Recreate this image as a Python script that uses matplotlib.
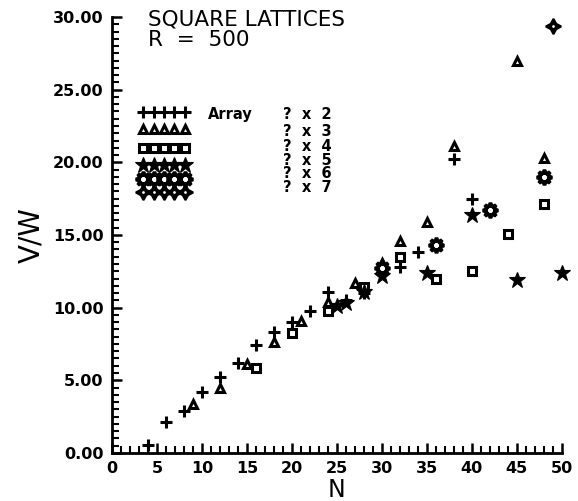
import matplotlib
matplotlib.use("Agg")
import matplotlib.pyplot as plt
from matplotlib.ticker import MultipleLocator, FormatStrFormatter

plt.rcParams['font.family'] = ['DejaVu Sans']

# N (array size) vs V/W for arrays of ? x k
n_x2 = [4, 6, 8, 10, 12, 14, 16, 18, 20, 22, 24, 26, 28, 32, 34, 38, 40]
v_x2 = [0.55, 2.1, 2.9, 4.2, 5.2, 6.2, 7.4, 8.3, 9.0, 9.8, 11.1, 10.5, 11.0, 12.8, 13.8, 20.2, 17.5]

n_x3 = [9, 12, 15, 18, 21, 24, 27, 30, 32, 35, 38, 45, 48]
v_x3 = [3.4, 4.5, 6.1, 7.6, 9.1, 10.4, 11.7, 13.1, 14.6, 15.9, 21.1, 27.0, 20.3]

n_x4 = [16, 20, 24, 28, 32, 36, 40, 44, 48]
v_x4 = [5.85, 8.25, 9.8, 11.4, 13.5, 12.0, 12.5, 15.1, 17.1]

n_x5 = [25, 26, 28, 30, 35, 40, 45, 50]
v_x5 = [10.1, 10.3, 11.1, 12.2, 12.4, 16.4, 11.9, 12.4]

n_x6 = [30, 36, 42, 48]
v_x6 = [12.7, 14.3, 16.7, 19.0]

n_x7 = [49]
v_x7 = [29.4]

legend_labels = ["?  x  2", "?  x  3", "?  x  4", "?  x  5", "?  x  6", "?  x  7"]

fig = plt.figure(figsize=(5.78, 5.01), dpi=100)
ax = fig.add_axes([0.194, 0.096, 0.778, 0.870])

# marker styles for each series
styles = [
    dict(marker='+', ms=9, mew=2.2, color='black', mfc='none'),
    dict(marker='^', ms=6, mew=2.2, color='black', mfc='white'),
    dict(marker='s', ms=5.5, mew=2.2, color='black', mfc='white'),
    dict(marker='*', ms=12, mew=0.8, color='black', mfc='black'),
    dict(marker=(8, 1, 0), ms=11, mew=2.6, color='black', mfc='white'),
    dict(marker=(4, 1, 0), ms=11, mew=1.5, color='black', mfc='black'),
]
series = [(n_x2, v_x2), (n_x3, v_x3), (n_x4, v_x4), (n_x5, v_x5), (n_x6, v_x6), (n_x7, v_x7)]

for (n, v), st in zip(series, styles):
    ax.plot(n, v, ls='none', clip_on=False, **st)
# hole in the middle of the 4-point star
ax.plot(n_x7, v_x7, ls='none', marker='o', ms=3.5, mfc='white', mec='black', mew=1.5)

ax.set_xlim(0, 50)
ax.set_ylim(0, 30)
ax.spines['top'].set_visible(False)
ax.spines['right'].set_visible(False)
ax.spines['left'].set_linewidth(2)
ax.spines['bottom'].set_linewidth(2)

ax.xaxis.set_major_locator(MultipleLocator(5))
ax.xaxis.set_minor_locator(MultipleLocator(1))
ax.yaxis.set_major_locator(MultipleLocator(5))
ax.yaxis.set_minor_locator(MultipleLocator(0.5))
ax.yaxis.set_major_formatter(FormatStrFormatter('%.2f'))
ax.tick_params(which='major', direction='in', length=7, width=1.8, labelsize=11.5, pad=6)
ax.tick_params(which='minor', direction='in', length=5, width=1.5)
for lab in ax.get_xticklabels() + ax.get_yticklabels():
    lab.set_fontweight('bold')

ax.set_xlabel("N", fontsize=17, labelpad=1)
ax.set_ylabel("V/W", fontsize=20, labelpad=6)

ax.text(4.0, 30.5, "SQUARE LATTICES\nR  =  500", fontsize=15.5, va='top', ha='left',
        linespacing=1.0, clip_on=False)

# hand-made legend: five markers per row, then label
rows_y = [23.3, 22.1, 21.1, 20.15, 19.2, 18.25]
mk_rows = [23.45, 22.3, 21.0, 19.85, 18.85, 17.95]
mk_x = [3.45, 4.6, 5.75, 6.9, 8.05]
for ry, my, st, lab in zip(rows_y, mk_rows, styles, legend_labels):
    ax.plot(mk_x, [my] * len(mk_x), ls='none', **st)
    ax.text(19.0, ry, lab, fontsize=10.5, fontweight='bold', va='center', ha='left')
ax.plot(mk_x, [mk_rows[5]] * len(mk_x), ls='none', marker='o', ms=3.5, mfc='white', mec='black', mew=1.5)
ax.text(10.6, rows_y[0], "Array", fontsize=10.5, fontweight='bold', va='center', ha='left')

fig.savefig("out.png", dpi=100)
